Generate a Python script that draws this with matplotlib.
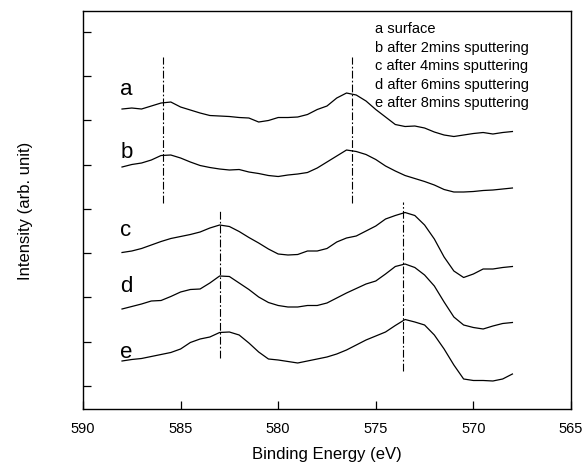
import numpy as np
import matplotlib
matplotlib.use("Agg")
import matplotlib.pyplot as plt

plt.rcParams['font.family'] = ['Liberation Sans', 'DejaVu Sans']

# binding energy grid (eV)
energy = np.arange(588.0, 567.9, -0.5)

# intensities (arb. units, curves already offset)
spec_a = [300, 301, 300, 303, 306, 307, 302, 299, 296, 293.5, 293, 292.5, 291.5, 291,
          287, 288.5, 291.5, 291.5, 292, 294.5, 299.5, 303, 311, 316, 314, 308, 299.5,
          292, 284.5, 282.5, 283, 281, 277, 274, 272.5, 274, 275.5, 276.5, 275, 276.5, 277.5]
spec_b = [242, 244.5, 246, 249, 253.5, 254, 251, 247, 243.5, 241.5, 240, 239, 239.5, 237,
          235.5, 233.5, 232.5, 234, 235, 236.5, 241, 247, 253, 259, 257.5, 254.5, 249.5,
          243, 238, 233.5, 230.5, 227.5, 224, 219.5, 217, 217, 217.5, 218.5, 219, 220, 221]
spec_c = [156.5, 158, 160.5, 164, 167.5, 170.5, 172.5, 174.5, 177, 181, 184, 182.5, 177.5,
          171.5, 166, 160, 155, 154, 154.5, 158, 158, 160.5, 167, 171, 173, 178, 183, 190,
          193.5, 196.5, 193.5, 184, 170, 152, 138, 131.5, 135, 140, 140, 141.5, 142.5]
spec_d = [100, 102.5, 105, 108, 108.5, 112.5, 117, 119.5, 120, 126, 133, 132.5, 126, 119.5,
          112, 106.5, 103.5, 102, 102, 103.5, 103.5, 106, 111, 116, 120.5, 125, 128, 135,
          142.5, 145, 141.5, 134, 123, 107, 92, 84, 81.5, 80, 83, 85.5, 86.5]
spec_e = [48, 49.5, 50.5, 52.5, 54.5, 56.5, 60, 66.5, 70, 72, 76.5, 77, 74, 66, 57, 50, 49,
          47.5, 46, 48, 50, 52, 55, 59, 64, 69, 73, 77, 83.5, 89.5, 87, 84, 74, 60, 44, 30,
          28.5, 28.5, 28, 30, 35]

curve_names = ['a', 'b', 'c', 'd', 'e']
name_y = [315, 252, 174, 118, 52]
legend_lines = ['a surface', 'b after 2mins sputtering', 'c after 4mins sputtering',
                'd after 6mins sputtering', 'e after 8mins sputtering']

# dash-dot peak markers: position, bottom, top
peak_ev = [585.9, 576.2, 583.0, 573.6]
peak_lo = [206, 206, 51, 38]
peak_hi = [352, 352, 198, 207]

fig = plt.figure(figsize=(5.84, 4.64), dpi=100)
ax = fig.add_axes([0.1421, 0.1164, 0.8356, 0.8577])

for s in [spec_a, spec_b, spec_c, spec_d, spec_e]:
    ax.plot(energy, s, color='black', lw=0.9)

ax.vlines(peak_ev, peak_lo, peak_hi, colors='black', lw=0.8,
          linestyles=[(0, (7, 2, 1.5, 2))])

for n, y in zip(curve_names, name_y):
    ax.text(588.1, y, n, fontsize=16, ha='left', va='baseline')

for i, t in enumerate(legend_lines):
    ax.text(0.598, 0.947 - i * 0.0465, t, transform=ax.transAxes,
            fontsize=10.5, ha='left', va='baseline')

ax.set_xlim(590, 565)
ax.set_ylim(0, 398)
ax.set_xticks([590, 585, 580, 575, 570, 565])
ax.set_yticks(np.arange(23, 390, 44.3))
ax.set_yticklabels([])
ax.tick_params(direction='in', length=6, width=0.9, labelsize=10.5)
ax.tick_params(axis='x', pad=8.5)
for sp in ax.spines.values():
    sp.set_linewidth(1.0)

ax.set_xlabel('Binding Energy (eV)', fontsize=12, labelpad=8)
ax.set_ylabel('Intensity (arb. unit)', fontsize=12)
ax.yaxis.set_label_coords(-0.102, 0.5)

fig.savefig('out.png', dpi=100)
